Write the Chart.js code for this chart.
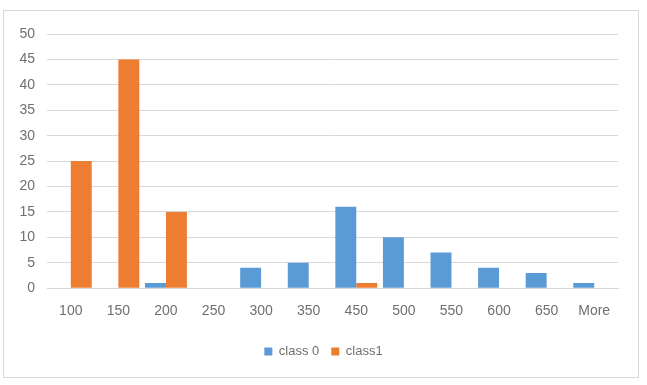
<!DOCTYPE html>
<html>
<head>
<meta charset="utf-8">
<script src="https://cdn.jsdelivr.net/npm/chart.js@4"></script>
<style>
  html, body { margin: 0; padding: 0; background: #fff; }
  #frame { position: absolute; left: 3px; top: 10px; width: 634px; height: 366px; border: 1px solid #D9D9D9; }
  #wrap { position: absolute; left: 0; top: 0; width: 647px; height: 385px; }
</style>
</head>
<body>
<div id="frame"></div>
<div id="wrap"><canvas id="chartCanvas"></canvas></div>
<script>
// bins of the histogram
var bins = ['100', '150', '200', '250', '300', '350', '450', '500', '550', '600', '650', 'More']
// counts per bin
var class0 = [0, 0, 1, 0, 4, 5, 16, 10, 7, 4, 3, 1]
var class1 = [25, 45, 15, 0, 0, 0, 1, 0, 0, 0, 0, 0]

var textColor = '#6f6f6f'
var font = { family: 'Liberation Sans', size: 14 }

const canvasChart = document.getElementById('chartCanvas')
var myChart = new Chart(canvasChart, {
  type: 'bar',
  data: {
    labels: bins,
    datasets: [
      { label: 'class 0', data: class0, backgroundColor: '#5B9BD5' },
      { label: 'class1', data: class1, backgroundColor: '#ED7D31' }
    ]
  },
  options: {
    responsive: true,
    maintainAspectRatio: false,
    animation: false,
    layout: { padding: { left: 0, right: 0, top: 34, bottom: 17 } },
    datasets: { bar: { categoryPercentage: 0.88, barPercentage: 1 } },
    plugins: {
      tooltip: { enabled: false },
      legend: {
        position: 'bottom',
        labels: { boxWidth: 8, boxHeight: 8, color: textColor, font: { family: 'Liberation Sans', size: 13 }, padding: 12 }
      }
    },
    scales: {
      x: {
        grid: { display: false },
        border: { color: '#D9D9D9' },
        ticks: { color: textColor, font: font, padding: 7, maxRotation: 0 },
        // extra room between the bin labels and the legend
        afterFit: function (scale) { scale.height += 6 }
      },
      y: {
        min: 0,
        max: 50,
        grid: { color: '#D9D9D9', drawTicks: false },
        border: { display: false },
        ticks: { stepSize: 5, color: textColor, font: font, padding: 12 },
        afterFit: function (scale) { scale.width = 47 }
      },
      // empty right axis, only keeps the plot off the right edge so the legend stays centred on the page
      yRight: {
        position: 'right',
        grid: { display: false },
        border: { display: false },
        ticks: { display: false },
        afterFit: function (scale) { scale.width = 29 }
      }
    }
  }
})
</script>
</body>
</html>
